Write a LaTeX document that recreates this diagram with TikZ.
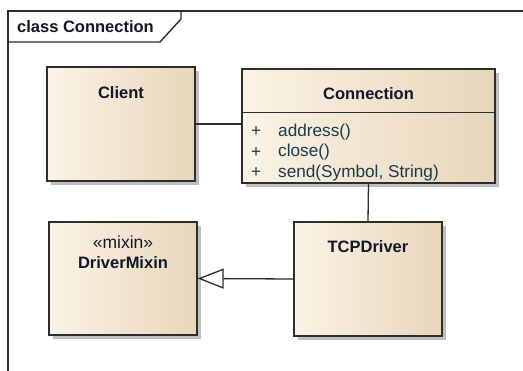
\documentclass[tikz,border=0pt]{standalone}
\usepackage{fontspec}
\setmainfont{Liberation Sans}
\usetikzlibrary{positioning, arrows.meta, shadows, calc}
\definecolor{classleft}{RGB}{251,243,230}
\definecolor{classright}{RGB}{232,214,186}
\definecolor{edge}{RGB}{45,45,45}
\definecolor{optext}{RGB}{28,58,78}
\definecolor{nametext}{RGB}{20,22,40}

\begin{document}
\begin{tikzpicture}[
  x=1pt, y=-1pt,
  every node/.style={font=\fontsize{16.5}{20}\selectfont},
  umlclass/.style={
    draw=edge, line width=1.4pt,
    left color=classleft, right color=classright,
    drop shadow={shadow xshift=4pt, shadow yshift=-4pt, fill=black!25, opacity=1},
    minimum width=148pt, minimum height=114pt, inner sep=0pt,
  },
  cname/.style={font=\fontsize{16.5}{20}\selectfont\bfseries, text=nametext, inner sep=0pt},
  stereo/.style={font=\fontsize{17.5}{20}\selectfont, text=nametext, inner sep=0pt},
  op/.style={font=\fontsize{17.2}{20}\selectfont, text=optext, inner sep=0pt, anchor=west},
  link/.style={draw=edge, line width=1.3pt},
  realize/.style={link, -{Triangle[length=26pt, width=20pt, fill=white, line join=miter]}},
  frame/.style={draw=edge, line width=1.4pt},
]
  \useasboundingbox (0,0) rectangle (523,371);

  % frame and tab
  \draw[frame] (8,371) -- (8,11) -- (523,11);
  \draw[frame] (8,42) -- (160,42) -- (181,19) -- (181,11);
  \node[cname, anchor=west] (title) at (17,27) {class Connection};

  % classes
  \node[umlclass]                         (client) at (121,124)   {};
  \node[umlclass, minimum width=253pt]    (conn)   at (368.5,126) {};
  \node[umlclass, minimum height=113pt]   (mixin)  at (123,278.5) {};
  \node[umlclass]                         (tcp)    at (368,279)   {};

  \node[cname]  (clientname) at ([yshift=-26pt]client.north) {Client};
  \node[cname]  (connname)   at ([yshift=-25pt]conn.north)   {Connection};
  \node[stereo] (mixinst)    at ([yshift=-21pt]mixin.north)  {«mixin»};
  \node[cname]  (mixinname)  at ([yshift=-41pt]mixin.north)  {DriverMixin};
  \node[cname]  (tcpname)    at ([yshift=-25pt]tcp.north)    {TCPDriver};

  % operations of Connection
  \draw[link] ([yshift=-44pt]conn.north west) -- ([yshift=-44pt]conn.north east);
  \foreach \opname [count=\i] in {address(), close(), {send(Symbol, String)}} {
    \node[op] (plus\i) at (251,111.5+20.5*\i) {+};
    \node[op] (op\i)   at (278,111.5+20.5*\i) {\opname};
  }

  % connectors
  \draw[link] (client.east) -- (client.east -| conn.west);
  \draw[link] (conn.south) -- (tcp.north);
  \draw[realize] (tcp.west) -- (mixin.east);
\end{tikzpicture}
\end{document}
